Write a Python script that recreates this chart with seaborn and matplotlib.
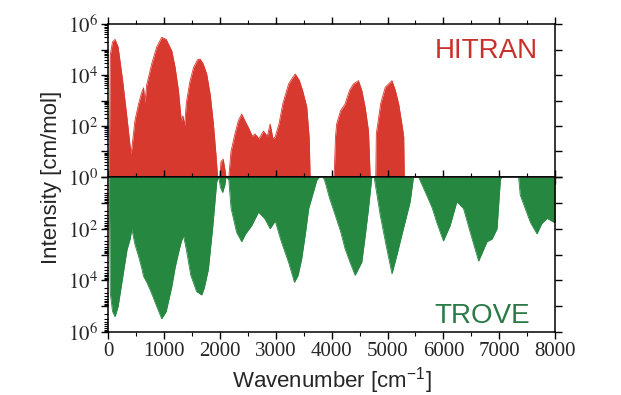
import matplotlib
matplotlib.use("Agg")
import matplotlib.pyplot as plt
import matplotlib.ticker as mticker
import seaborn as sns
import numpy as np

# band envelopes: wavenumber [cm-1] and log10(intensity)
hitran_wn = [20, 40, 80, 125, 180, 260, 340, 410, 430, 480, 545, 600, 635, 660, 690, 780, 870, 960,
             1040, 1140, 1200, 1260, 1310, 1340, 1370, 1400, 1460, 1530, 1600, 1645, 1700, 1765, 1830,
             1885, 1930, 1960, 2000, 2020, 2060, 2090, 2110, 2160, 2200, 2270, 2330, 2390, 2450, 2520,
             2580, 2630, 2700, 2780, 2850, 2900, 2950, 2990, 3060, 3130, 3230, 3300, 3350, 3420, 3480,
             3555, 3600, 3615, 4045, 4070, 4090, 4160, 4240, 4320, 4390, 4480, 4540, 4600, 4660, 4690,
             4790, 4800, 4880, 4960, 5080, 5140, 5200, 5270, 5290, 5300]
hitran_log = [0, 4.8, 5.3, 5.4, 5.1, 3.8, 2.3, 0.9, 1.2, 2.2, 2.86, 3.3, 3.5, 2.9, 3.6, 4.43, 5.1, 5.48,
              5.4, 4.95, 4.3, 3.38, 2.2, 2.4, 2.0, 2.9, 3.7, 4.3, 4.6, 4.63, 4.45, 4.04, 3.2,
              2.08, 0.9, 0, 0, 0.6, 0.7, 0.3, 0, 0, 1.0, 1.69, 2.2, 2.47, 2.2, 1.9,
              1.6, 1.69, 1.5, 1.8, 1.6, 2.08, 1.5, 1.57, 2.1, 2.9, 3.65, 3.9, 4.04, 3.8, 3.4,
              2.75, 1.5, 0, 0, 1.6, 2.08, 2.6, 2.86, 3.4, 3.65, 3.78, 3.4, 2.73, 1.8, 0,
              0, 1.7, 2.9, 3.52, 3.78, 3.4, 2.86, 1.9, 1.57, 0]

trove_wn = [20, 40, 80, 125, 180, 260, 340, 395, 425, 480, 545, 600, 635, 700, 780, 870, 960, 1040,
            1140, 1200, 1260, 1310, 1350, 1400, 1480, 1585, 1675, 1720, 1795, 1870, 1945, 1980, 2010,
            2050, 2090, 2110, 2160, 2200, 2300, 2390, 2460, 2570, 2690, 2800, 2900, 2990, 3100, 3230,
            3335, 3400, 3465, 3530, 3590, 3735, 3780, 3850, 3885, 3960, 4065, 4160, 4240, 4330, 4420,
            4540, 4600, 4660, 4720, 4760, 4870, 4980, 5080, 5170, 5255, 5405, 5465, 5555, 5700, 5800,
            5880, 6000, 6120, 6240, 6360, 6480, 6630, 6780, 6870, 6960, 7020, 7040, 7345, 7375, 7555,
            7675, 7760, 7855, 7975, 8000]
trove_log = [0, 4.5, 5.2, 5.4, 5.0, 3.9, 2.8, 2.4, 2.0, 2.6, 3.06, 3.5, 3.84, 4.1, 4.5, 5.0, 5.48, 5.2,
             4.24, 3.5, 2.93, 2.5, 2.27, 2.8, 3.8, 4.43, 4.56, 4.3, 3.57, 2.0, 0.18, 0, 0.4,
             0.6, 0.3, 0, 0.1, 1.2, 2.14, 2.5, 2.2, 1.88, 1.36, 1.6, 2.0, 1.7, 2.5, 3.3,
             4.07, 3.8, 3.16, 2.2, 1.22, 0.12, 0, 0, 0.2, 0.8, 1.48, 2.1, 2.77, 3.3, 3.8,
             3.29, 2.3, 1.22, 0, 0, 1.48, 2.7, 3.74, 3.0, 2.25, 0.96, 0, 0, 0.7, 1.2,
             1.75, 2.47, 1.88, 0.96, 1.22, 2.14, 3.25, 2.5, 2.4, 2.0, 0.1, 0, 0, 0.7, 1.75,
             2.2, 1.8, 1.6, 1.75, 1.75]

x_ticks = [0, 1000, 2000, 3000, 4000, 5000, 6000, 7000, 8000]

red = "#d8392f"
green = "#268741"

sns.set_theme(style="ticks")
plt.rcParams["font.family"] = ["Liberation Sans", "DejaVu Sans"]
plt.rcParams["mathtext.fontset"] = "stix"

fig = plt.figure(figsize=(6.21, 3.95), dpi=100)
ax1 = fig.add_axes([0.174, 0.552, 0.72, 0.387])
ax2 = fig.add_axes([0.174, 0.159, 0.72, 0.393])

hit_y = 10.0 ** np.array(hitran_log)
tro_y = 10.0 ** np.array(trove_log)

ax1.fill_between(hitran_wn, 1, hit_y, color=red, lw=0)
sns.lineplot(x=hitran_wn, y=hit_y, ax=ax1, color=red, lw=0.6, sort=False, estimator=None)
ax2.fill_between(trove_wn, 1, tro_y, color=green, lw=0)
sns.lineplot(x=trove_wn, y=tro_y, ax=ax2, color=green, lw=0.6, sort=False, estimator=None)


def exp_fmt(v, pos):
    e = int(round(np.log10(v)))
    if e % 2 == 0:
        return r"$10^{%d}$" % e
    return ""


for ax in (ax1, ax2):
    ax.set_yscale("log")
    ax.set_xlim(0, 8000)
    ax.yaxis.set_major_locator(mticker.FixedLocator([10.0 ** k for k in range(7)]))
    ax.yaxis.set_minor_locator(mticker.LogLocator(base=10, subs=np.arange(2, 10), numticks=20))
    ax.yaxis.set_major_formatter(mticker.FuncFormatter(exp_fmt))
    ax.yaxis.set_minor_formatter(mticker.NullFormatter())
    ax.set_xticks(x_ticks)
    ax.xaxis.set_minor_locator(mticker.MultipleLocator(500))
    ax.tick_params(axis="both", which="major", direction="out", length=5, width=1, color="black",
                   top=True, bottom=True, left=True, right=True, labelsize=15, pad=2)
    ax.tick_params(axis="both", which="minor", direction="out", length=3, width=0.8, color="black",
                   top=True, bottom=True)
    ax.tick_params(axis="y", which="minor", right=False)
    for s in ax.spines.values():
        s.set_linewidth(1.1)
        s.set_color("black")
        s.set_visible(True)
    ax.set_xlabel("")
    ax.set_ylabel("")

ax1.set_ylim(1, 1e6)
ax1.tick_params(axis="x", labelbottom=False)
ax2.set_ylim(1e6, 1)
ax2.yaxis.set_major_formatter(mticker.FuncFormatter(lambda v, p: "" if v < 2 else exp_fmt(v, p)))

for lab in ax2.get_xticklabels():
    lab.set_family("Liberation Serif")

ax1.text(0.962, 0.78, "HITRAN", transform=ax1.transAxes, ha="right", va="baseline",
         fontsize=20, color="#c9302c")
ax2.text(0.944, 0.06, "TROVE", transform=ax2.transAxes, ha="right", va="baseline",
         fontsize=20, color="#2b7a45")

ax2.set_xlabel("Wavenumber [cm$^{\\mathregular{-1}}$]", fontsize=16, labelpad=3)
fig.text(52 / 621, 0.552, "Intensity [cm/mol]", rotation=90, ha="center", va="center", fontsize=16)

fig.savefig("out.png", dpi=100)
